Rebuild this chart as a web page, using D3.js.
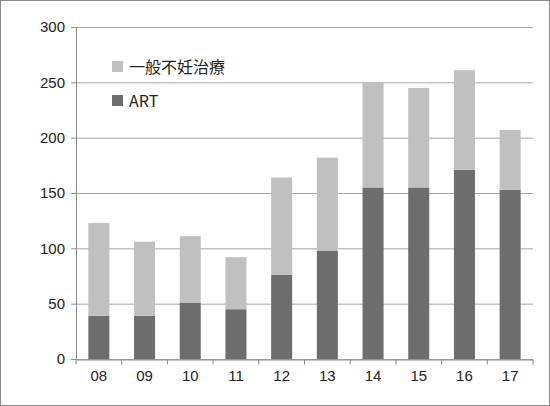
<!DOCTYPE html>
<html><head><meta charset="utf-8">
<script src="https://cdn.jsdelivr.net/npm/d3@7"></script>
<style>body{margin:0;background:#fff}</style>
</head><body>
<svg id="c" width="550" height="406"></svg>
<script>
const years = ["08","09","10","11","12","13","14","15","16","17"]
const art = [39, 39, 51, 45, 76, 98, 155, 155, 171, 153]
const general = [84, 67, 60, 47, 88, 84, 95, 90, 90, 54]
const yTicks = [0, 50, 100, 150, 200, 250, 300]

const svg = d3.select("#c")
const font = "'Liberation Sans', Arial, sans-serif"

svg.append("rect").attr("x", 0.5).attr("y", 0.5).attr("width", 549).attr("height", 405)
    .attr("fill", "#fff").attr("stroke", "#888")

const x = d3.scaleBand().domain(years).range([76, 533]).paddingInner(0.54).paddingOuter(0.27)
const y = d3.scaleLinear().domain([0, 300]).range([359, 27])

svg.append("g").selectAll("line").data(yTicks).join("line")
    .attr("x1", 76).attr("x2", 533)
    .attr("y1", d => y(d) + 0.5).attr("y2", d => y(d) + 0.5)
    .attr("stroke", "#a6a6a6")

const yAxis = svg.append("g").attr("transform", "translate(76,0)")
    .call(d3.axisLeft(y).tickValues(yTicks).tickSize(5).tickPadding(6))
yAxis.select(".domain").attr("stroke", "#888")
yAxis.selectAll(".tick line").attr("stroke", "#888")
yAxis.selectAll("text").attr("font-family", font).attr("font-size", 15).attr("fill", "#222")

const xAxis = svg.append("g").attr("transform", "translate(0,359.5)")
    .call(d3.axisBottom(x).tickSize(0).tickPadding(11))
xAxis.select(".domain").attr("stroke", "#888")
xAxis.selectAll("text").attr("font-family", font).attr("font-size", 15).attr("fill", "#222")
xAxis.selectAll(".sep").data(d3.range(years.length + 1)).join("line")
    .attr("x1", i => 76 + i * x.step()).attr("x2", i => 76 + i * x.step())
    .attr("y1", 0).attr("y2", 5).attr("stroke", "#888")

const rows = years.map((k, i) => ({k, a: art[i], g: general[i]}))
svg.append("g").selectAll("rect").data(rows).join("rect")
    .attr("x", d => x(d.k)).attr("width", x.bandwidth())
    .attr("y", d => y(d.a)).attr("height", d => y(0) - y(d.a))
    .attr("fill", "#6d6d6d")
svg.append("g").selectAll("rect").data(rows).join("rect")
    .attr("x", d => x(d.k)).attr("width", x.bandwidth())
    .attr("y", d => y(d.a + d.g)).attr("height", d => y(d.a) - y(d.a + d.g))
    .attr("fill", "#c0c0c0")

const legend = [["一般不妊治療", "#c0c0c0", 67], ["ART", "#6d6d6d", 101]]
legend.forEach(([t, c, ly]) => {
    svg.append("rect").attr("x", 112).attr("y", ly - 6).attr("width", 11).attr("height", 11).attr("fill", c)
    svg.append("text").attr("x", 129).attr("y", ly + 6).text(t)
        .attr("font-family", "'Noto Sans CJK JP', " + font).attr("font-size", 16).attr("fill", "#222")
})
</script>
</body></html>
